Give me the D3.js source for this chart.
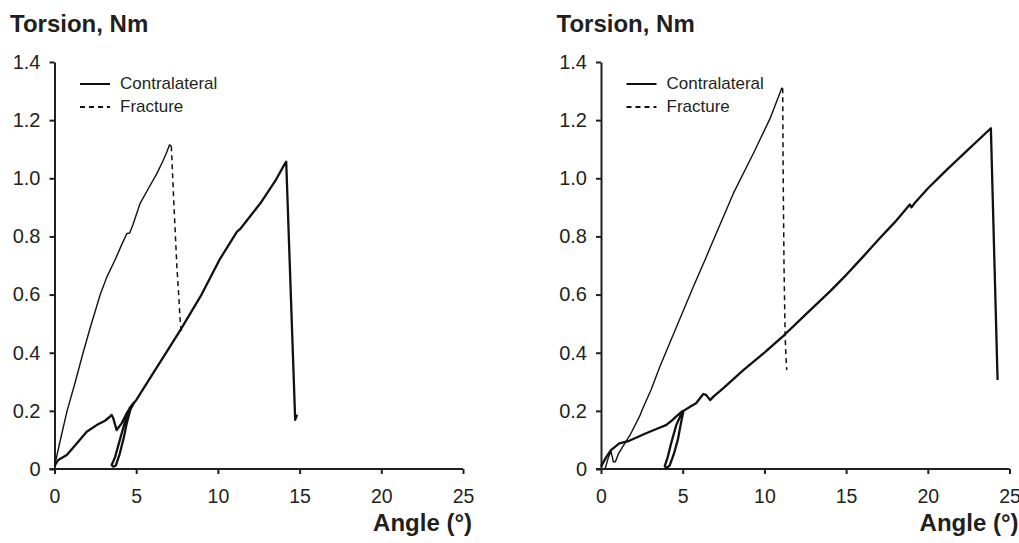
<!DOCTYPE html>
<html>
<head>
<meta charset="utf-8">
<script src="https://cdn.jsdelivr.net/npm/d3@7"></script>
<style>
  body { margin: 0; background: #fff; }
  svg { display: block; font-family: "Liberation Sans", Arial, Helvetica, sans-serif; }
  .tick text { fill: #231f20; }
  .axis path, .axis line { stroke: #231f20; stroke-width: 2px; }
</style>
</head>
<body>
<div id="chart"></div>
<script>
var width = 1019,
    height = 543;

// tick values
var xTicks = [0, 5, 10, 15, 20, 25];
var yTicks = [0, 0.2, 0.4, 0.6, 0.8, 1.0, 1.2, 1.4];
var legendLabels = ["Contralateral", "Fracture"];

// left panel, contralateral [angle, torsion]
var leftContra = [[0.03,0.013],[0.23,0.031],[0.75,0.048],[1.36,0.088],[1.97,0.128],[2.58,0.151],
  [3.09,0.166],[3.35,0.178],[3.5,0.186],[3.6,0.174],[3.8,0.134],[4.11,0.157],[4.45,0.195],
  [4.72,0.218],[4.85,0.228],[4.6,0.21],[4.3,0.16],[4.0,0.1],[3.7,0.04],[3.5,0.014],[3.6,0.008],
  [3.75,0.012],[4.0,0.054],[4.25,0.11],[4.42,0.157],[4.65,0.205],[4.85,0.226],[5.0,0.237],
  [6.0,0.326],[7.0,0.415],[7.7,0.478],[9.0,0.6],[10.1,0.72],[11.16,0.816],[11.4,0.828],
  [12.6,0.914],[13.5,0.99],[14.12,1.052],[14.18,1.057],[14.73,0.169],[14.8,0.18],[14.86,0.186]];

// left panel, fracture: loading part and failure drop
var leftFrac = [[0,0.01],[0.4,0.11],[0.77,0.2],[1.25,0.295],[1.75,0.4],[2.18,0.485],[2.8,0.6],
  [3.2,0.66],[3.71,0.72],[4.1,0.77],[4.43,0.81],[4.6,0.812],[4.8,0.84],[5.24,0.914],[5.8,0.97],
  [6.27,1.017],[6.6,1.055],[6.88,1.091],[7.04,1.115],[7.15,1.11]];
var leftFracDrop = [[7.15,1.11],[7.3,0.92],[7.49,0.695],[7.6,0.6],[7.7,0.5],[7.78,0.47]];

// right panel, contralateral
var rightContra = [[0,0.008],[0.31,0.04],[0.61,0.065],[1.12,0.088],[1.73,0.097],[2.76,0.123],
  [3.5,0.14],[3.98,0.151],[4.3,0.165],[4.59,0.18],[5.0,0.2],[4.6,0.15],[4.3,0.09],[4.08,0.04],
  [3.9,0.01],[4.0,0.003],[4.2,0.012],[4.45,0.05],[4.7,0.1],[4.9,0.16],[5.05,0.2],[5.45,0.214],
  [5.82,0.226],[6.26,0.258],[6.43,0.255],[6.68,0.237],[6.88,0.249],[7.49,0.278],[8.71,0.34],
  [10,0.4],[11.2,0.46],[12.5,0.53],[14,0.61],[15,0.667],[16,0.728],[17,0.79],[18,0.85],
  [18.9,0.91],[19.0,0.9],[19.2,0.915],[20,0.965],[21.17,1.03],[22.5,1.1],[23.86,1.172],[24.27,0.306]];

// right panel, fracture
var rightFrac = [[0.25,0.0],[0.45,0.04],[0.61,0.06],[0.7,0.04],[0.75,0.025],[0.88,0.025],
  [1.05,0.05],[1.33,0.077],[1.78,0.117],[2.35,0.18],[2.6,0.214],[3.06,0.272],[3.6,0.352],
  [4.63,0.49],[5.65,0.627],[6.37,0.72],[6.88,0.788],[8.1,0.948],[9.33,1.086],[10.35,1.206],
  [11.06,1.31],[11.12,1.31]];
var rightFracDrop = [[11.12,1.31],[11.15,1.0],[11.2,0.7],[11.27,0.455],[11.33,0.375],[11.37,0.34]];

var panels = [
  { dx: 0, contra: leftContra, frac: leftFrac, drop: leftFracDrop },
  { dx: 546.5, contra: rightContra, frac: rightFrac, drop: rightFracDrop }
];

var svg = d3.select("#chart")
    .append("svg")
    .attr("width", width)
    .attr("height", height);

var x = d3.scaleLinear().domain([0, 25]).range([54.5, 463]);
var y = d3.scaleLinear().domain([0, 1.4]).range([469, 62]);

var line = d3.line()
    .x(function(d) { return x(d[0]); })
    .y(function(d) { return y(d[1]); });

panels.forEach(function(p) {
  var g = svg.append("g").attr("transform", "translate(" + p.dx + ",0)");

  g.append("text")
    .attr("x", 10)
    .attr("y", 32)
    .attr("fill", "#231f20")
    .style("font-size", "24px")
    .style("font-weight", "bold")
    .text("Torsion, Nm");

  g.append("g")
    .attr("class", "axis")
    .attr("transform", "translate(" + x(0) + ",0)")
    .call(d3.axisLeft(y)
      .tickValues(yTicks)
      .tickSize(5)
      .tickSizeOuter(0)
      .tickPadding(9)
      .tickFormat(function(d) { return d === 0 ? "0" : d3.format(".1f")(d); }))
    .call(function(a) { a.selectAll("text").style("font-size", "20px"); });

  g.append("g")
    .attr("class", "axis")
    .attr("transform", "translate(0," + y(0) + ")")
    .call(d3.axisBottom(x)
      .tickValues(xTicks)
      .tickSize(5)
      .tickSizeOuter(0)
      .tickPadding(15))
    .call(function(a) {
      a.selectAll("text").style("font-size", "19.5px");
      a.select(".domain").attr("d", "M" + (x(0) - 5) + ",0H" + x(25));
    });

  g.append("text")
    .attr("x", 472)
    .attr("y", 531)
    .attr("text-anchor", "end")
    .attr("fill", "#231f20")
    .style("font-size", "24px")
    .style("font-weight", "bold")
    .text("Angle (°)");

  g.append("path")
    .datum(p.frac)
    .attr("d", line)
    .attr("fill", "none")
    .attr("stroke", "#111")
    .attr("stroke-width", 1.4)
    .attr("stroke-linejoin", "round");

  g.append("path")
    .datum(p.drop)
    .attr("d", line)
    .attr("fill", "none")
    .attr("stroke", "#111")
    .attr("stroke-width", 1.5)
    .attr("stroke-dasharray", "5,4");

  g.append("path")
    .datum(p.contra)
    .attr("d", line)
    .attr("fill", "none")
    .attr("stroke", "#111")
    .attr("stroke-width", 2.3)
    .attr("stroke-linejoin", "round");

  // legend
  var legend = g.selectAll(".legend")
    .data(legendLabels)
    .enter().append("g")
    .attr("class", "legend")
    .attr("transform", function(d, i) { return "translate(0," + (84 + i * 23) + ")"; });

  legend.append("line")
    .attr("x1", 80)
    .attr("x2", 110)
    .attr("stroke", "#111")
    .attr("stroke-width", 2)
    .attr("stroke-dasharray", function(d, i) { return i === 1 ? "5,4" : null; });

  legend.append("text")
    .attr("x", 120)
    .attr("y", 5)
    .attr("fill", "#231f20")
    .style("font-size", "17px")
    .text(function(d) { return d; });
});
</script>
</body>
</html>
